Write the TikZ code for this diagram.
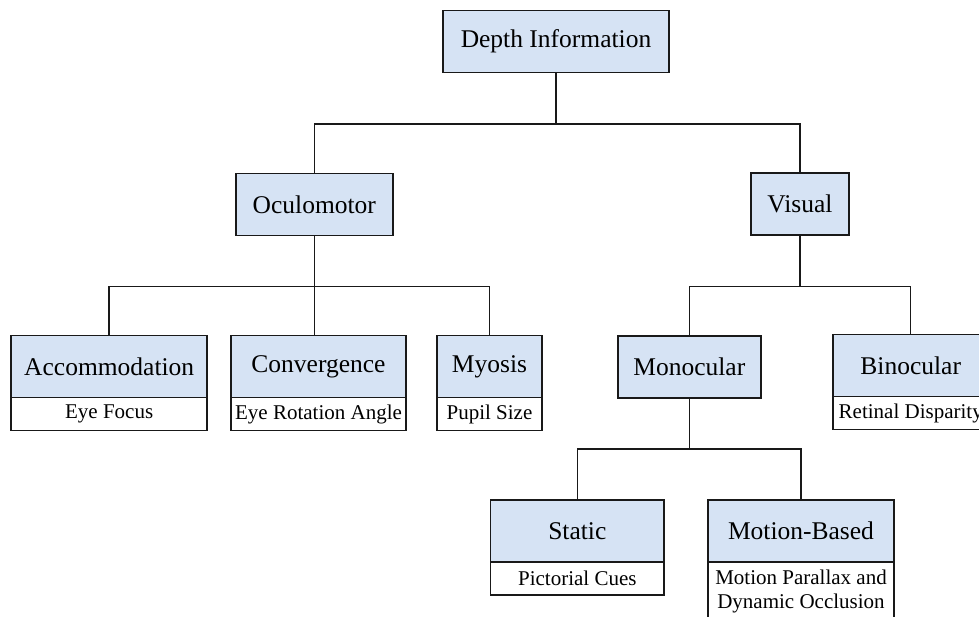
\documentclass[tikz,border=0pt]{standalone}
\usepackage{fontspec}
\setmainfont{Liberation Serif}
\usepackage{tikz}
\usetikzlibrary{positioning}
\definecolor{boxblue}{RGB}{214,227,244}
\definecolor{edge}{RGB}{25,25,25}
\begin{document}
\begin{tikzpicture}[x=1pt,y=-1pt,
  topic/.style={draw=edge, line width=1.8pt, fill=boxblue, minimum height=62pt, inner sep=0pt, outer sep=0pt, font=\fontsize{25.5}{28}\selectfont},
  detail/.style={draw=edge, line width=1.8pt, fill=white, minimum height=33pt, inner sep=0pt, outer sep=0pt, align=center, font=\fontsize{21}{24}\selectfont},
  link/.style={draw=edge, line width=1.5pt}]
\clip (0,0) rectangle (979,616);
\fill[white] (0,0) rectangle (979,616);
\node[topic, minimum width=226.6pt] (dep) at (556,41.5) {Depth Information};
\node[topic, minimum width=156.7pt] (ocu) at (314.3,204.5) {Oculomotor};
\node[topic, minimum width=98.6pt] (vis) at (800,204) {Visual};
\node[topic, minimum width=196.3pt] (acc) at (109.2,366.5) {Accommodation};
\node[detail, minimum width=196.3pt, below=0pt of acc] (accsub) {Eye Focus};
\node[topic, minimum width=175pt] (conv) at (318.5,366.5) {Convergence};
\node[detail, minimum width=175pt, below=0pt of conv] (convsub) {Eye Rotation Angle};
\node[topic, minimum width=104.4pt] (myo) at (489.5,366.5) {Myosis};
\node[detail, minimum width=104.4pt, below=0pt of myo] (myosub) {Pupil Size};
\node[topic, minimum width=143.3pt] (mono) at (689.3,367) {Monocular};
\node[topic, minimum width=155pt] (bino) at (910.7,365.5) {Binocular};
\node[detail, minimum width=155pt, below=0pt of bino] (binosub) {Retinal Disparity};
\node[topic, minimum width=173.5pt] (stat) at (577.3,530.7) {Static};
\node[detail, minimum width=173.5pt, below=0pt of stat] (statsub) {Pictorial Cues};
\node[topic, minimum width=186.3pt] (moti) at (801,530.7) {Motion-Based};
\node[detail, minimum width=186.3pt, minimum height=60pt, below=0pt of moti] (motisub) {Motion Parallax and\\Dynamic Occlusion};
\coordinate (bus1) at (556,124);
\coordinate (bus2) at (314.3,286.7);
\coordinate (bus3) at (800,286.7);
\coordinate (bus4) at (689.3,449);
\draw[link] (dep.south) -- (bus1) -| (ocu.north);
\draw[link] (bus1) -| (vis.north);
\draw[link] (ocu.south) -- (bus2) -| (acc.north);
\draw[link] (bus2) -- (bus2 |- conv.north);
\draw[link] (bus2) -| (myo.north);
\draw[link] (vis.south) -- (bus3) -| (mono.north);
\draw[link] (bus3) -| (bino.north);
\draw[link] (mono.south) -- (bus4) -| (stat.north);
\draw[link] (bus4) -| (moti.north);
\end{tikzpicture}
\end{document}
